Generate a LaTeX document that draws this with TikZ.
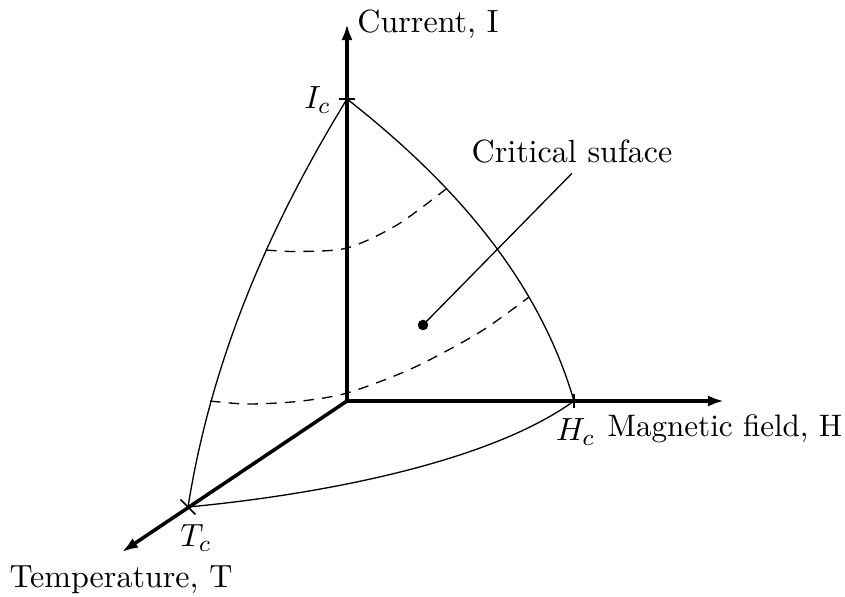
\documentclass[tikz,border=0pt]{standalone}
\usetikzlibrary{arrows.meta}
\begin{document}
\begin{tikzpicture}[x=0.3413pt,y=-0.3413pt,
  font=\fontsize{10.95pt}{13.6pt}\selectfont,
  axis/.style={line width=1.2pt,-{Latex[length=5.5pt,width=3.8pt]}},
  curve/.style={line width=0.45pt},
  dashcurve/.style={line width=0.45pt,dash pattern=on 3.6pt off 2.8pt},
  tickmark/.style={line width=0.6pt},
  lbl/.style={inner sep=0pt}]
\useasboundingbox (0,0) rectangle (845,597);
\coordinate (O) at (347,401);
\coordinate (Iend) at (347,24);
\coordinate (Hend) at (724,401);
\coordinate (Tend) at (122,552);
\coordinate (Ic) at (347,99);
\coordinate (Hc) at (574,401);
\coordinate (Tc) at (188,507);
% surface edges
\draw[curve] (Ic) .. controls (269,226.5) and (211.6,358.8) .. (Tc);
\draw[curve] (Ic) .. controls (449.7,179.6) and (537.6,276.2) .. (Hc);
\draw[curve] (Tc) .. controls (304.7,496.1) and (484.3,465.9) .. (Hc);
% dashed contours
\draw[dashcurve] plot[smooth] coordinates {(266,250) (297,251.5) (347,248) (397,225) (446,189)};
\draw[dashcurve] plot[smooth] coordinates {(210,401) (247,404) (297,401.5) (347,393) (413,368) (480,332) (529,297)};
% axes
\draw[axis] (O) -- (Iend);
\draw[axis] (O) -- (Hend);
\draw[axis] (O) -- (Tend);
% ticks
\draw[tickmark] (339,99) -- (355,99);
\draw[tickmark] (574,394) -- (574,408);
\draw[tickmark] (180.5,499.5) -- (195.5,514.5);
% labels
\node[anchor=west] (Ilbl) at (Iend) {Current, I};
\node[anchor=base west,lbl,font=\fontsize{10.6pt}{13pt}\selectfont] (Hlbl) at (607,437) {Magnetic field, H};
\node[anchor=base,lbl] (Tlbl) at (121,588) {Temperature, T};
\node[anchor=base,lbl] (IcL) at (317.5,109) {$I_c$};
\node[anchor=base,lbl] (HcL) at (575.5,441) {$H_c$};
\node[anchor=base,lbl] (TcL) at (196,547) {$T_c$};
% critical surface pointer
\node[circle,fill,inner sep=0pt,minimum size=3.6pt] (dot) at (423,325) {};
\node[anchor=south] (cs) at (572,173.3) {Critical suface};
\draw[curve] (dot.center) -- (cs.south);
\end{tikzpicture}
\end{document}
